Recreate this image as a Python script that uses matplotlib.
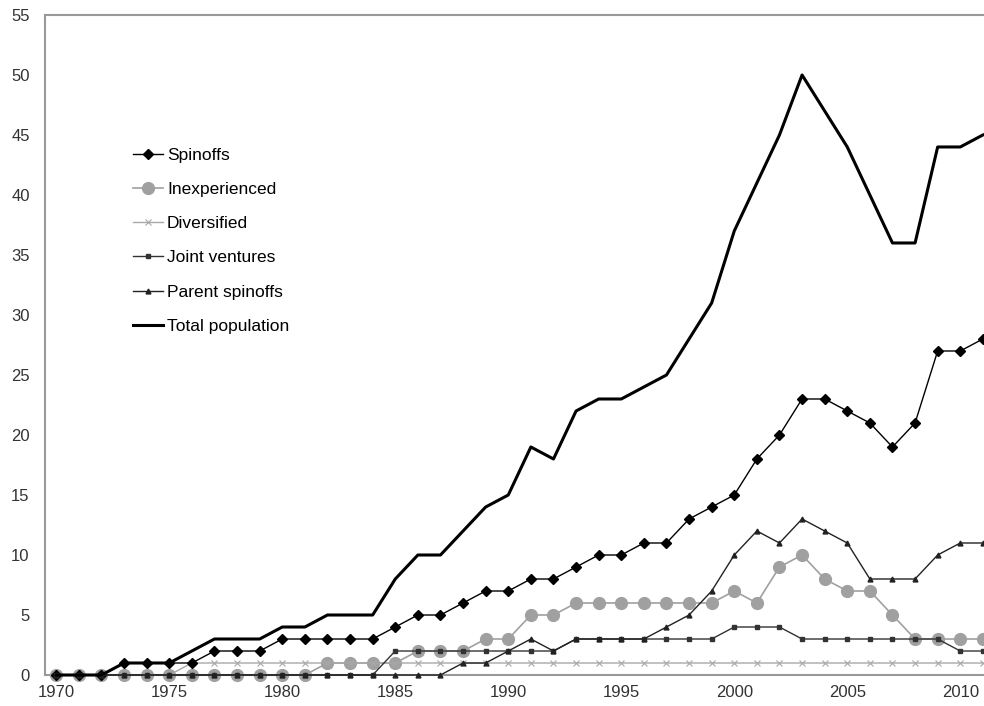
import numpy as np
import matplotlib
matplotlib.use("Agg")
import matplotlib.pyplot as plt

plt.rcParams['font.family'] = ['Liberation Sans', 'DejaVu Sans']

years = list(range(1970, 2012))

spinoffs = [0, 0, 0, 1, 1, 1, 1, 2, 2, 2,
            3, 3, 3, 3, 3, 4, 5, 5, 6, 7,
            7, 8, 8, 9, 10, 10, 11, 11, 13, 14,
            15, 18, 20, 23, 23, 22, 21, 19, 21, 27,
            27, 28]
inexperienced = [0, 0, 0, 0, 0, 0, 0, 0, 0, 0,
                 0, 0, 1, 1, 1, 1, 2, 2, 2, 3,
                 3, 5, 5, 6, 6, 6, 6, 6, 6, 6,
                 7, 6, 9, 10, 8, 7, 7, 5, 3, 3,
                 3, 3]
diversified = [0, 0, 0, 0, 0, 0, 1, 1, 1, 1,
               1, 1, 1, 1, 1, 1, 1, 1, 1, 1,
               1, 1, 1, 1, 1, 1, 1, 1, 1, 1,
               1, 1, 1, 1, 1, 1, 1, 1, 1, 1,
               1, 1]
joint_ventures = [0, 0, 0, 0, 0, 0, 0, 0, 0, 0,
                  0, 0, 0, 0, 0, 2, 2, 2, 2, 2,
                  2, 2, 2, 3, 3, 3, 3, 3, 3, 3,
                  4, 4, 4, 3, 3, 3, 3, 3, 3, 3,
                  2, 2]
parent_spinoffs = [0, 0, 0, 0, 0, 0, 0, 0, 0, 0,
                   0, 0, 0, 0, 0, 0, 0, 0, 1, 1,
                   2, 3, 2, 3, 3, 3, 3, 4, 5, 7,
                   10, 12, 11, 13, 12, 11, 8, 8, 8, 10,
                   11, 11]
total = [0, 0, 0, 1, 1, 1, 2, 3, 3, 3,
         4, 4, 5, 5, 5, 8, 10, 10, 12, 14,
         15, 19, 18, 22, 23, 23, 24, 25, 28, 31,
         37, 41, 45, 50, 47, 44, 40, 36, 36, 44,
         44, 45]

fig = plt.figure(figsize=(9.84, 7.06), dpi=100)
ax = fig.add_axes([0.0457, 0.0439, 0.9543, 0.9349])

ax.plot(years, spinoffs, color='black', lw=1, marker='D', ms=5, label='Spinoffs', zorder=4, clip_on=False)
ax.plot(years, inexperienced, color='#a0a0a0', lw=1.2, marker='o', ms=8.5, label='Inexperienced', zorder=3, clip_on=False)
ax.plot(years, diversified, color='#a8a8a8', lw=1, marker='x', ms=5, mew=0.8, label='Diversified', zorder=3, clip_on=False)
ax.plot(years, joint_ventures, color='#333333', lw=1, marker='s', ms=3.5, label='Joint ventures', zorder=4, clip_on=False)
ax.plot(years, parent_spinoffs, color='#222222', lw=1, marker='^', ms=3.5, label='Parent spinoffs', zorder=4, clip_on=False)
ax.plot(years, total, color='black', lw=2.2, label='Total population', zorder=5, clip_on=False)

ax.set_xlim(1969.5, 2011.05)
ax.set_ylim(0, 55)
ax.set_xticks(range(1970, 2011, 5))
ax.set_yticks(range(0, 56, 5))
ax.tick_params(length=0, labelsize=12, colors='#333333')
ax.tick_params(axis='y', pad=11)
ax.tick_params(axis='x', pad=7)
for side in ['left', 'top', 'bottom']:
    ax.spines[side].set_color('#999999')
    ax.spines[side].set_linewidth(1.5)
ax.spines['right'].set_visible(False)

ax.legend(loc='center left', bbox_to_anchor=(0.094, 0.658), frameon=False,
          fontsize=12.5, handlelength=1.72, handletextpad=0.23, labelspacing=1.1,
          borderpad=0, borderaxespad=0)

fig.savefig('out.png', dpi=100)
